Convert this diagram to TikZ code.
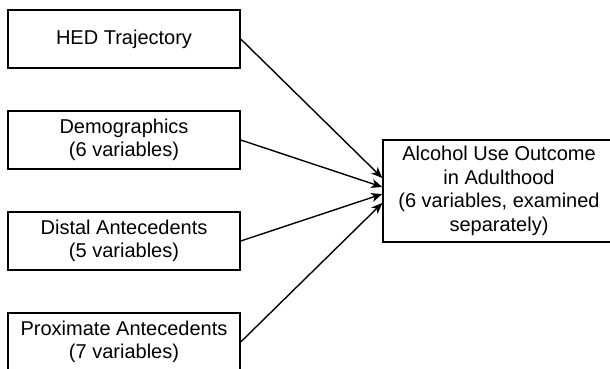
\documentclass[tikz,border=0pt]{standalone}
\usepackage{fontspec}
\setmainfont{Liberation Sans}
\usetikzlibrary{shapes, arrows.meta}
\tikzstyle{block} = [draw, rectangle, line width=1.4pt, minimum width=232pt, minimum height=58pt, align=center]
\tikzstyle{outcome} = [draw, rectangle, line width=1.4pt, minimum width=240pt, minimum height=102pt, align=center]
\tikzstyle{link} = [-{Stealth[length=11pt,width=9pt,inset=3pt]}, line width=1.4pt]

\begin{document}
\begin{tikzpicture}[node distance=101pt,auto,font=\fontsize{20}{23.5}\selectfont]
\useasboundingbox (0,0) rectangle (610pt,-369pt);
\clip (0,0) rectangle (610pt,-369pt);
\node [block] at (124pt,-39pt) (hed) {HED Trajectory};
\node [block, below of=hed] (demo) {Demographics\\(6 variables)};
\node [block, below of=demo] (distal) {Distal Antecedents\\(5 variables)};
\node [block, below of=distal] (prox) {Proximate Antecedents\\(7 variables)};
\node [outcome] at (503pt,-191pt) (alc) {\hspace*{-8pt}Alcohol Use Outcome\\\hspace*{-8pt}in Adulthood\\\hspace*{-8pt}(6 variables, examined\\\hspace*{-8pt}separately)};

\draw [link] (hed.east) -- ([yshift=13pt]alc.west);
\draw [link] (demo.east) -- ([yshift=4pt]alc.west);
\draw [link] (distal.east) -- ([yshift=-3pt]alc.west);
\draw [link] (prox.east) -- ([yshift=-12pt]alc.west);
\end{tikzpicture}
\end{document}
